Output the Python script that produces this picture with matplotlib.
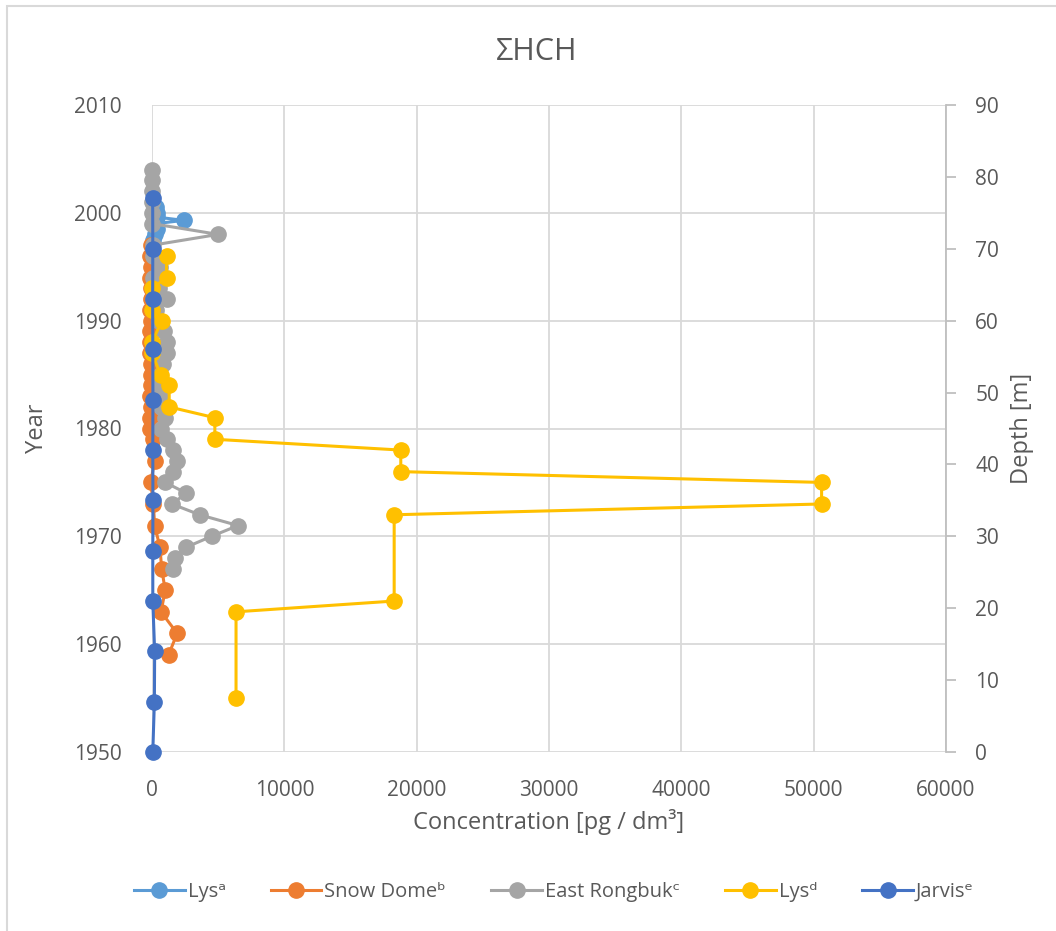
import matplotlib
matplotlib.use("Agg")
import matplotlib.pyplot as plt
from matplotlib.patches import Rectangle

plt.rcParams['font.family'] = ['Open Sans', 'DejaVu Sans']

# ---- data ----
lys_a_conc = [300, 350, 400, 2400, 300, 400, 200, 100]
lys_a_year = [2000.5, 2000.0, 1999.6, 1999.3, 1999.0, 1998.5, 1998.0, 1997.5]

snow_conc = [-100, -150, -100, -120, -80, -100, -120, -100, -150, -130, -120, -100, -90, -100, -120,
             -100, -150, -150, 100, 200, -100, 100, 200, 600, 730, 1000, 680, 1900, 1250]
snow_year = [1997, 1996, 1995, 1994, 1993, 1992, 1991, 1990, 1989, 1988, 1987, 1986, 1985, 1984, 1983,
             1982, 1981, 1980, 1979, 1977, 1975, 1973, 1971, 1969, 1967, 1965, 1963, 1961, 1959]

er_year = list(range(2004, 1966, -1))
er_conc = [0, 0, 0, 0, 0, 0, 5000, 50, 100, 600, 100, 500, 1150, 300, 500, 900, 1150, 1150,
           800, 600, 600, 600, 650, 1000, 700, 1150, 1600, 1900, 1600, 1000, 2600, 1500,
           3600, 6500, 4500, 2600, 1750, 1600]

lys_d_conc = [1100, 1100, 0, 0, 750, 0, 0, 650, 1300, 1300, 4750, 4750, 18800, 18800,
              50600, 50600, 18300, 18300, 6350, 6350]
lys_d_year = [1996, 1994, 1993, 1991, 1990, 1988, 1987, 1985, 1984, 1982, 1981, 1979, 1978, 1976,
              1975, 1973, 1972, 1964, 1963, 1955]

jarvis_conc = [50, 60, 50, 60, 70, 60, 70, 60, 60, 200, 180, 60]
jarvis_depth = [77, 70, 63, 56, 49, 42, 35, 28, 21, 14, 7, 0]

x_ticks = [0, 10000, 20000, 30000, 40000, 50000, 60000]
y_ticks = [1950, 1960, 1970, 1980, 1990, 2000, 2010]
depth_ticks = [0, 10, 20, 30, 40, 50, 60, 70, 80, 90]

labels = ['Lysᵃ', 'Snow Domeᵇ', 'East Rongbukᶜ', 'Lysᵈ', 'Jarvisᵉ']
colors = ['#5B9BD5', '#ED7D31', '#A5A5A5', '#FFC000', '#4472C4']

txt = '#595959'
grid = '#D9D9D9'

fig = plt.figure(figsize=(10.56, 9.31), dpi=100)
fig.patches.append(Rectangle((7 / 1056, -0.1), 1.2, 1 - 6 / 931 + 0.1, transform=fig.transFigure,
                             fill=False, edgecolor='#D9D9D9', linewidth=1.5))

ax = fig.add_axes([152 / 1056, 1 - 752 / 931, (946 - 152) / 1056, (752 - 105) / 931])
ax2 = ax.twinx()

ms = 11
lw = 2.2
handles = []
for c, y, col, lab in [(lys_a_conc, lys_a_year, colors[0], labels[0]),
                       (snow_conc, snow_year, colors[1], labels[1]),
                       (er_conc, er_year, colors[2], labels[2]),
                       (lys_d_conc, lys_d_year, colors[3], labels[3])]:
    h, = ax.plot(c, y, '-o', color=col, ms=ms, lw=lw, label=lab, clip_on=False, zorder=3)
    handles.append(h)
h, = ax2.plot(jarvis_conc, jarvis_depth, '-o', color=colors[4], ms=ms, lw=lw, label=labels[4],
              clip_on=False, zorder=3)
handles.append(h)

ax.set_xlim(x_ticks[0], x_ticks[-1])
ax.set_ylim(y_ticks[0], y_ticks[-1])
ax2.set_ylim(depth_ticks[0], depth_ticks[-1])
ax.set_xticks(x_ticks)
ax.set_yticks(y_ticks)
ax2.set_yticks(depth_ticks)

ax.grid(True, color=grid, lw=1.3)
ax.set_axisbelow(True)
for s in ['top', 'left', 'bottom']:
    ax.spines[s].set_visible(False)
    ax2.spines[s].set_visible(False)
ax.spines['right'].set_visible(False)
ax2.spines['right'].set_color('#BFBFBF')
ax2.spines['right'].set_linewidth(1.3)
ax.tick_params(axis='y', length=0, labelsize=15, labelcolor=txt, pad=22)
ax.tick_params(axis='x', length=0, labelsize=15, labelcolor=txt, pad=20)
ax2.tick_params(axis='y', length=7, width=1.3, color='#BFBFBF', labelsize=15, labelcolor=txt, pad=14)

ax.set_xlabel('Concentration [pg / dm³]', fontsize=17, color=txt, labelpad=6)
ax.set_ylabel('Year', fontsize=17, color=txt, labelpad=18)
ax2.set_ylabel('Depth [m]', fontsize=17, color=txt, labelpad=8)
fig.text(537 / 1056, 1 - 52 / 931, 'ΣHCH', fontsize=22, color=txt, ha='center', va='center')

leg = fig.legend(handles=handles, labels=labels, loc='center', bbox_to_anchor=(554 / 1056, 1 - 892 / 931),
                 ncol=5, frameon=False, fontsize=14.5, labelcolor=txt, handlelength=2.5,
                 columnspacing=2.25, handletextpad=0.15)
for t in leg.get_texts():
    t.set_color(txt)

fig.savefig('out.png', dpi=100)
